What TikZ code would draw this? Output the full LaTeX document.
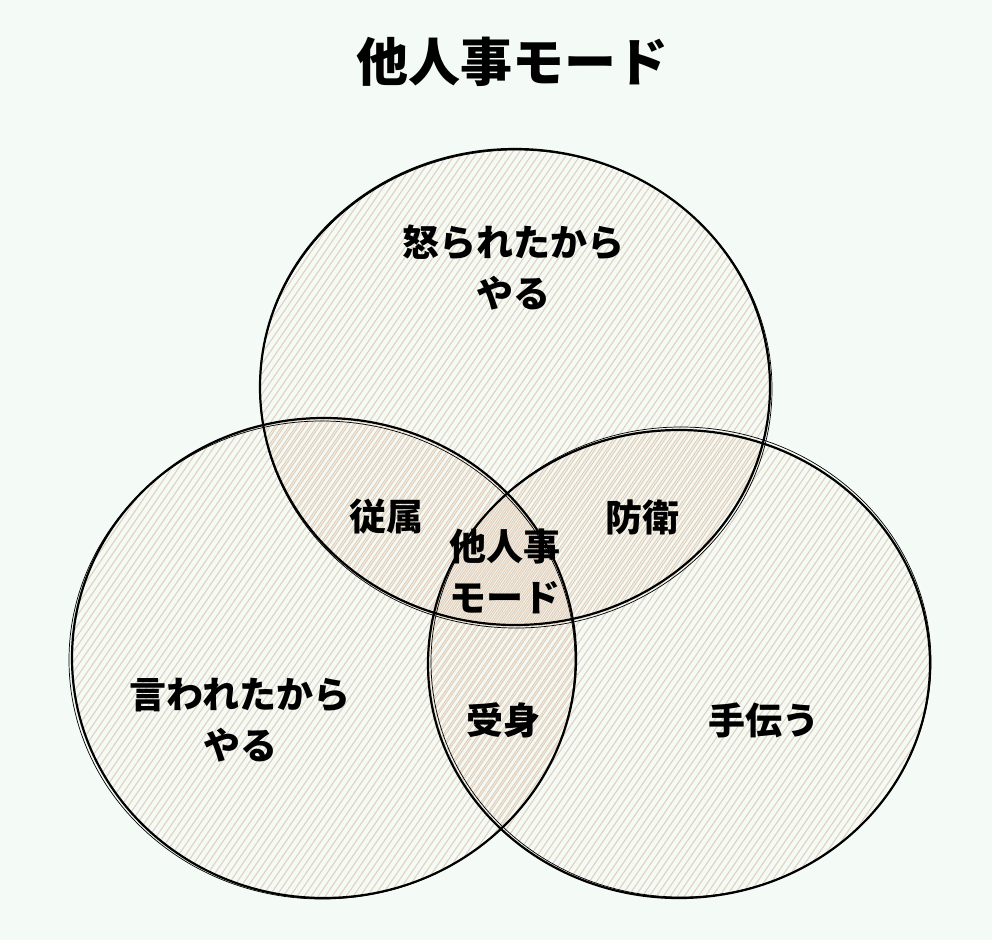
\documentclass[tikz,border=0pt]{standalone}
\usepackage{fontspec}
\newfontfamily\jp{Noto Sans CJK JP}
\definecolor{bgc}{HTML}{F4FAF6}
\definecolor{hatchc}{HTML}{D9B597}
\tikzset{
  lbl/.style={font=\jp\bfseries\fontsize{37}{51}\selectfont, align=center, text=black, inner sep=0pt},
  ttl/.style={font=\jp\bfseries\fontsize{52}{60}\selectfont, text=black, inner sep=0pt},
  rim/.style={draw=black, line width=2.2pt},
  rim2/.style={draw=black, line width=0.7pt},
  hatchline/.style={draw=hatchc, line width=1.1pt, opacity=0.6}
}
\begin{document}
\begin{tikzpicture}[x=1pt,y=-1pt]
\fill[bgc] (0,0) rectangle (992,940);
\useasboundingbox (0,0) rectangle (992,940);
% hatching
\foreach \cx/\cy/\rx/\ry in {515/387/255/238, 324/658/252/240, 679/664/251/234}{
  \begin{scope}
    \clip (\cx,\cy) ellipse [x radius=\rx, y radius=\ry];
    \foreach \i in {-640,-633,...,640}{
      \draw[hatchline] (\cx+\i-220,\cy+320) -- (\cx+\i+220,\cy-320);
    }
  \end{scope}
}
% outlines
\draw[rim] (515,387) ellipse [x radius=255, y radius=238];
\draw[rim2] (516,389) ellipse [x radius=256, y radius=239];
\draw[rim] (324,658) ellipse [x radius=252, y radius=240];
\draw[rim2] (322,660) ellipse [x radius=253, y radius=239];
\draw[rim] (679,664) ellipse [x radius=251, y radius=234];
\draw[rim2] (681,662) ellipse [x radius=250, y radius=235];
% texts
\node[ttl] (title) at (512,62) {他人事モード};
\node[lbl] (a) at (513,268) {怒られたから\\やる};
\node[lbl] (b) at (240,720) {言われたから\\やる};
\node[lbl] (c) at (764,720) {手伝う};
\node[lbl] (ab) at (386,517) {従属};
\node[lbl] (ac) at (642,517) {防衛};
\node[lbl] (bc) at (503,720) {受身};
\node[lbl] (abc) at (505,571) {他人事\\モード};
\end{tikzpicture}
\end{document}
